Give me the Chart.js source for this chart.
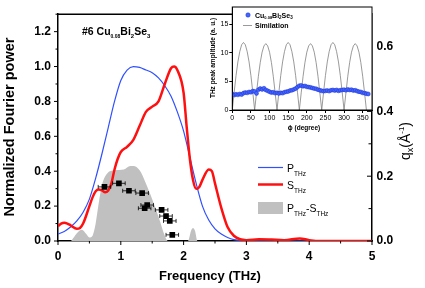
<!DOCTYPE html>
<html>
<head>
<meta charset="utf-8">
<script src="https://cdn.jsdelivr.net/npm/chart.js@4.4.1/dist/chart.umd.min.js"></script>
<style>
html, body { margin: 0; padding: 0; background: #fff; }
#wrap { position: relative; width: 425px; height: 288px; }
#wrap canvas { position: absolute; left: 0; top: 0; }
</style>
</head>
<body>
<div id="wrap">
  <canvas id="main" width="425" height="288"></canvas>
  <canvas id="inset" width="425" height="288"></canvas>
</div>
<script>
// P_THz (blue)
const pFreq  = [0, 0.1, 0.2, 0.3, 0.4, 0.5, 0.6, 0.7, 0.8, 0.9, 1.0, 1.1, 1.2, 1.3, 1.4, 1.5, 1.6, 1.7, 1.8, 1.9, 2.0, 2.1, 2.2, 2.3, 2.4, 2.5, 2.6, 2.7, 2.8, 3.0, 3.5, 5.0];
const pPower = [0.04, 0.055, 0.08, 0.115, 0.165, 0.24, 0.36, 0.5, 0.65, 0.8, 0.92, 0.98, 1.0, 0.995, 0.98, 0.965, 0.935, 0.89, 0.83, 0.74, 0.63, 0.48, 0.33, 0.2, 0.12, 0.07, 0.04, 0.02, 0.008, 0.002, 0, 0];

// S_THz (red)
const sFreq  = [0, 0.05, 0.1, 0.15, 0.2, 0.3, 0.35, 0.4, 0.5, 0.55, 0.6, 0.65, 0.7, 0.75, 0.8, 0.85, 0.9, 0.95, 1.0, 1.1, 1.2, 1.3, 1.4, 1.5, 1.6, 1.7, 1.8, 1.85, 1.9, 2.0, 2.05, 2.1, 2.15, 2.2, 2.25, 2.3, 2.4, 2.45, 2.5, 2.6, 2.7, 2.8, 2.9, 3.0, 3.2, 3.4, 3.6, 3.85, 4.0, 4.2, 5.0];
const sPower = [0.085, 0.1, 0.105, 0.1, 0.09, 0.07, 0.075, 0.1, 0.2, 0.25, 0.285, 0.295, 0.29, 0.28, 0.29, 0.33, 0.41, 0.47, 0.51, 0.54, 0.58, 0.66, 0.74, 0.77, 0.8, 0.9, 0.99, 1.0, 0.98, 0.85, 0.65, 0.47, 0.35, 0.3, 0.31, 0.35, 0.41, 0.4, 0.33, 0.19, 0.08, 0.03, 0.01, 0.005, 0.01, 0.008, 0.005, 0.015, 0.005, 0, 0];

// P_THz - S_THz (grey area)
const dFreq  = [0, 0.2, 0.25, 0.3, 0.38, 0.45, 0.5, 0.55, 0.6, 0.65, 0.7, 0.78, 0.9, 1.05, 1.15, 1.2, 1.3, 1.4, 1.45, 1.5, 1.6, 1.7, 1.75, 2.07, 2.12, 2.15, 2.18, 2.22, 5.0];
const dPower = [0, 0, 0.02, 0.045, 0.065, 0.04, 0.02, 0.03, 0.1, 0.22, 0.32, 0.385, 0.405, 0.41, 0.43, 0.43, 0.405, 0.33, 0.285, 0.24, 0.14, 0.03, 0, 0, 0.06, 0.075, 0.06, 0, 0];

// q_x points (right axis)
const qFreq = [0.74, 0.97, 1.13, 1.34, 1.42, 1.38, 1.65, 1.72, 1.78, 1.82];
const qVal  = [0.167, 0.178, 0.155, 0.148, 0.111, 0.101, 0.096, 0.077, 0.062, 0.019];
const qErr  = [0.1, 0.1, 0.1, 0.1, 0.1, 0.1, 0.1, 0.1, 0.1, 0.1];

// inset: THz peak amplitude vs phi
const ampPhi = [0, 5, 10, 15, 20, 25, 30, 35, 40, 45, 50, 55, 60, 65, 70, 75, 80, 85, 90, 95, 100, 105, 110, 115, 120, 125, 130, 135, 140, 145, 150, 155, 160, 165, 170, 175, 180, 185, 190, 195, 200, 205, 210, 215, 220, 225, 230, 235, 240, 245, 250, 255, 260, 265, 270, 275, 280, 285, 290, 295, 300, 305, 310, 315, 320, 325, 330, 335, 340, 345, 350, 355, 360, 365];
const ampVal = [2.8, 2.6, 2.75, 2.65, 2.8, 2.7, 2.95, 3.05, 3.0, 3.15, 3.1, 3.3, 3.25, 2.9, 3.55, 3.75, 3.6, 3.8, 3.5, 3.35, 3.2, 3.05, 3.1, 2.95, 3.0, 2.9, 3.0, 2.95, 3.1, 3.2, 3.25, 3.4, 3.45, 3.6, 3.75, 4.0, 4.25, 4.3, 4.15, 4.2, 4.05, 4.0, 3.95, 3.85, 3.75, 3.7, 3.55, 3.45, 3.35, 3.3, 3.35, 3.4, 3.3, 3.45, 3.5, 3.4, 3.5, 3.35, 3.45, 3.5, 3.55, 3.45, 3.6, 3.5, 3.55, 3.4, 3.45, 3.3, 3.2, 3.15, 3.0, 2.95, 2.85, 2.8];

const simPhi = [0, 5, 10, 15, 20, 25, 30, 35, 40, 45, 50, 55, 60, 65, 70, 75, 80, 85, 90, 95, 100, 105, 110, 115, 120, 125, 130, 135, 140, 145, 150, 155, 160, 165, 170, 175, 180, 185, 190, 195, 200, 205, 210, 215, 220, 225, 230, 235, 240, 245, 250, 255, 260, 265, 270, 275, 280, 285, 290, 295, 300, 305, 310, 315, 320, 325, 330, 335, 340, 345, 350, 355, 360];
const simVal = [0, 3.1, 6.0, 8.4, 10.2, 11.4, 11.8, 11.4, 10.2, 8.4, 6.0, 3.1,
                0, 3.0, 5.9, 8.3, 10.1, 11.2, 11.6, 11.2, 10.1, 8.3, 5.9, 3.0,
                0, 3.1, 6.0, 8.4, 10.2, 11.4, 11.8, 11.4, 10.2, 8.4, 6.0, 3.1,
                0, 3.0, 5.9, 8.3, 10.1, 11.2, 11.6, 11.2, 10.1, 8.3, 5.9, 3.0,
                0, 3.1, 6.0, 8.4, 10.2, 11.4, 11.8, 11.4, 10.2, 8.4, 6.0, 3.1,
                0, 3.0, 5.9, 8.3, 10.1, 11.2, 11.6, 11.2, 10.1, 8.3, 5.9, 3.0,
                0];

const FAM = '"Liberation Sans", Arial, sans-serif';
Chart.defaults.font.family = FAM;
Chart.defaults.color = '#000';

function pts(xs, ys) { return xs.map((v, i) => ({x: v, y: ys[i]})); }

// text pieces: [text, font, dy]
function richWidth(ctx, parts) {
    let w = 0;
    parts.forEach(p => { ctx.font = p[1]; w += ctx.measureText(p[0]).width; });
    return w;
}
function drawRich(ctx, parts, x, y) {
    let cx = x;
    parts.forEach(p => {
        ctx.font = p[1];
        ctx.fillText(p[0], cx, y + p[2]);
        cx += ctx.measureText(p[0]).width;
    });
}

// left/bottom ticks point out, right ticks point in
function axisTicks(ctx, chart, scale, step, side) {
    const a = chart.chartArea;
    const n = Math.round((scale.max - scale.min) / (step / 2));
    ctx.beginPath();
    for (let i = 0; i <= n; i++) {
        const v = scale.min + i * step / 2;
        const len = i % 2 === 0 ? 4 : 2.5;
        const p = scale.getPixelForValue(v);
        if (side === 'bottom') { ctx.moveTo(p, a.bottom); ctx.lineTo(p, a.bottom + len); }
        if (side === 'left') { ctx.moveTo(a.left, p); ctx.lineTo(a.left - len, p); }
        if (side === 'right') { ctx.moveTo(a.right, p); ctx.lineTo(a.right - len - 1, p); }
    }
    ctx.stroke();
}

const B = (s) => 'bold ' + s + 'px ' + FAM;
const N = (s) => s + 'px ' + FAM;

const mainDecor = {
    id: 'mainDecor',
    afterDatasetsDraw(chart) {
        const ctx = chart.ctx, xs = chart.scales.x, ys = chart.scales.y2;
        ctx.save();
        ctx.strokeStyle = '#000';
        ctx.lineWidth = 0.8;
        qFreq.forEach((f, i) => {
            const py = ys.getPixelForValue(qVal[i]);
            const x1 = xs.getPixelForValue(f - qErr[i]), x2 = xs.getPixelForValue(f + qErr[i]);
            ctx.beginPath();
            ctx.moveTo(x1, py); ctx.lineTo(x2, py);
            ctx.moveTo(x1, py - 2); ctx.lineTo(x1, py + 2);
            ctx.moveTo(x2, py - 2); ctx.lineTo(x2, py + 2);
            ctx.stroke();
        });
        ctx.restore();
    },
    afterDraw(chart) {
        const ctx = chart.ctx, a = chart.chartArea;
        ctx.save();
        ctx.strokeStyle = '#000';
        ctx.lineWidth = 1.5;
        ctx.beginPath(); ctx.moveTo(a.left, a.top); ctx.lineTo(a.right, a.top); ctx.stroke();
        ctx.lineWidth = 1;
        axisTicks(ctx, chart, chart.scales.x, 1, 'bottom');
        axisTicks(ctx, chart, chart.scales.y, 0.2, 'left');
        axisTicks(ctx, chart, chart.scales.y2, 0.2, 'right');

        ctx.fillStyle = '#000';
        ctx.textBaseline = 'alphabetic';
        // title
        drawRich(ctx, [['#6 Cu', B(10.5), 0], ['0.08', B(5), 2.5], ['Bi', B(10.5), 0], ['2', B(6), 2.5], ['Se', B(10.5), 0], ['3', B(6), 2.5]], 82, 35);

        // axis titles
        ctx.textAlign = 'center';
        ctx.textBaseline = 'middle';
        ctx.font = B(13);
        ctx.fillText('Frequency (THz)', 210, 276);
        ctx.save();
        ctx.translate(10, 127);
        ctx.rotate(-Math.PI / 2);
        ctx.font = B(14.5);
        ctx.fillText('Normalized Fourier power', 0, 0);
        ctx.restore();

        ctx.textAlign = 'left';
        ctx.textBaseline = 'alphabetic';
        const qParts = [['q', N(14), 0], ['x', N(9), 3], ['(\u00C5', N(14), 0], ['-1', N(8), -6], [')', N(14), 0]];
        ctx.save();
        ctx.translate(410, 141);
        ctx.rotate(-Math.PI / 2);
        drawRich(ctx, qParts, -richWidth(ctx, qParts) / 2, 0);
        ctx.restore();

        // legend
        ctx.lineWidth = 1.2;
        ctx.strokeStyle = '#3050ff';
        ctx.beginPath(); ctx.moveTo(258, 167.5); ctx.lineTo(283, 167.5); ctx.stroke();
        ctx.lineWidth = 2.5;
        ctx.strokeStyle = '#ff1010';
        ctx.beginPath(); ctx.moveTo(258, 184.5); ctx.lineTo(283, 184.5); ctx.stroke();
        ctx.fillStyle = '#c0c0c0';
        ctx.fillRect(258, 202, 25, 12);
        ctx.fillStyle = '#000';
        drawRich(ctx, [['P', N(10.5), 0], ['THz', N(6.5), 4]], 287, 171.5);
        drawRich(ctx, [['S', N(10.5), 0], ['THz', N(6.5), 4]], 287, 188.5);
        drawRich(ctx, [['P', N(10.5), 0], ['THz', N(6.5), 4], ['-S', N(10.5), 0], ['THz', N(6.5), 4]], 287, 212);
        ctx.restore();
    }
};

new Chart(document.getElementById('main'), {
    type: 'line',
    data: {
        datasets: [
            {
                type: 'scatter', data: pts(qFreq, qVal), yAxisID: 'y2', order: 0,
                pointStyle: 'rect', pointRadius: 4, backgroundColor: '#000', borderColor: '#000', borderWidth: 0
            },
            {
                data: pts(sFreq, sPower), yAxisID: 'y', order: 1,
                borderColor: '#ff1010', borderWidth: 2.5, pointRadius: 0, fill: false,
                cubicInterpolationMode: 'monotone'
            },
            {
                data: pts(pFreq, pPower), yAxisID: 'y', order: 2,
                borderColor: '#3050ff', borderWidth: 1.2, pointRadius: 0, fill: false,
                cubicInterpolationMode: 'monotone'
            },
            {
                data: pts(dFreq, dPower), yAxisID: 'y', order: 3,
                borderWidth: 0, borderColor: 'rgba(0,0,0,0)', backgroundColor: '#c0c0c0',
                pointRadius: 0, fill: 'origin', cubicInterpolationMode: 'monotone'
            }
        ]
    },
    options: {
        responsive: false,
        animation: false,
        devicePixelRatio: 1,
        layout: { padding: { top: 7, left: 0, right: 0, bottom: 0 } },
        plugins: { legend: { display: false }, tooltip: { enabled: false } },
        scales: {
            x: {
                type: 'linear', min: 0, max: 5,
                ticks: { stepSize: 1, font: { size: 12, weight: 'bold' }, padding: 8 },
                grid: { display: false, drawTicks: false },
                border: { color: '#000', width: 1.5 },
                afterFit: s => { s.height = 47; }
            },
            y: {
                min: 0, max: 1.3,
                ticks: { stepSize: 0.2, includeBounds: false, font: { size: 12, weight: 'bold' }, padding: 7, callback: v => v.toFixed(1) },
                grid: { display: false, drawTicks: false },
                border: { color: '#000', width: 1.5 },
                afterFit: s => { s.width = 58; }
            },
            y2: {
                position: 'right', min: 0, max: 0.7,
                ticks: { stepSize: 0.2, includeBounds: false, font: { size: 12, weight: 'bold' }, padding: 4.5, callback: v => v.toFixed(1) },
                grid: { display: false, drawTicks: false },
                border: { color: '#000', width: 1.5 },
                afterFit: s => { s.width = 53; }
            }
        }
    },
    plugins: [mainDecor]
});

const insetDecor = {
    id: 'insetDecor',
    beforeDraw(chart) {
        const ctx = chart.ctx, a = chart.chartArea;
        ctx.save();
        ctx.fillStyle = '#fff';
        ctx.fillRect(a.left, a.top, a.right - a.left, a.bottom - a.top);
        ctx.restore();
    },
    afterDraw(chart) {
        const ctx = chart.ctx, a = chart.chartArea;
        ctx.save();
        ctx.strokeStyle = '#000';
        ctx.lineWidth = 1;
        ctx.strokeRect(a.left, a.top, a.right - a.left, a.bottom - a.top);

        ctx.fillStyle = '#000';
        ctx.textAlign = 'center';
        ctx.textBaseline = 'middle';
        ctx.font = B(6.5);
        ctx.fillText('\u03D5 (degree)', 304, 128);
        ctx.save();
        ctx.translate(213, 58);
        ctx.rotate(-Math.PI / 2);
        ctx.fillText('THz peak amplitude (a. u.)', 0, 0);
        ctx.restore();

        // legend
        ctx.textAlign = 'left';
        ctx.textBaseline = 'alphabetic';
        ctx.fillStyle = '#4466ff';
        ctx.strokeStyle = '#1a2fd0';
        ctx.lineWidth = 0.5;
        ctx.beginPath(); ctx.arc(248, 15, 2.2, 0, Math.PI * 2); ctx.fill(); ctx.stroke();
        ctx.strokeStyle = '#808080';
        ctx.lineWidth = 0.8;
        ctx.beginPath(); ctx.moveTo(243, 25.5); ctx.lineTo(252, 25.5); ctx.stroke();
        ctx.fillStyle = '#000';
        drawRich(ctx, [['Cu', B(7), 0], ['0.08', B(4), 1.5], ['Bi', B(7), 0], ['2', B(4.5), 1.5], ['Se', B(7), 0], ['3', B(4.5), 1.5]], 255, 17.5);
        ctx.font = B(7);
        ctx.fillText('Similation', 255, 28);
        ctx.restore();
    }
};

new Chart(document.getElementById('inset'), {
    type: 'line',
    data: {
        datasets: [
            {
                type: 'scatter', data: pts(ampPhi, ampVal), order: 0,
                pointRadius: 2, backgroundColor: '#4466ff', borderColor: '#1a2fd0', borderWidth: 0.5
            },
            {
                data: pts(simPhi, simVal), order: 1,
                borderColor: '#808080', borderWidth: 0.8, pointRadius: 0, fill: false, tension: 0
            }
        ]
    },
    options: {
        responsive: false,
        animation: false,
        devicePixelRatio: 1,
        layout: { padding: { top: 7, left: 200, right: 53, bottom: 148 } },
        plugins: { legend: { display: false }, tooltip: { enabled: false } },
        scales: {
            x: {
                type: 'linear', min: 0, max: 375,
                ticks: { stepSize: 50, includeBounds: false, font: { size: 7 }, padding: 1, maxRotation: 0 },
                grid: { display: true, drawOnChartArea: false, tickLength: 3, color: '#000' },
                border: { color: '#000', width: 1 },
                afterFit: s => { s.height = 30; }
            },
            y: {
                min: 0, max: 18,
                ticks: { stepSize: 5, includeBounds: false, font: { size: 7 }, padding: 1 },
                grid: { display: true, drawOnChartArea: false, tickLength: 3, color: '#000' },
                border: { color: '#000', width: 1 },
                afterFit: s => { s.width = 32.3; }
            }
        }
    },
    plugins: [insetDecor]
});
</script>
</body>
</html>
